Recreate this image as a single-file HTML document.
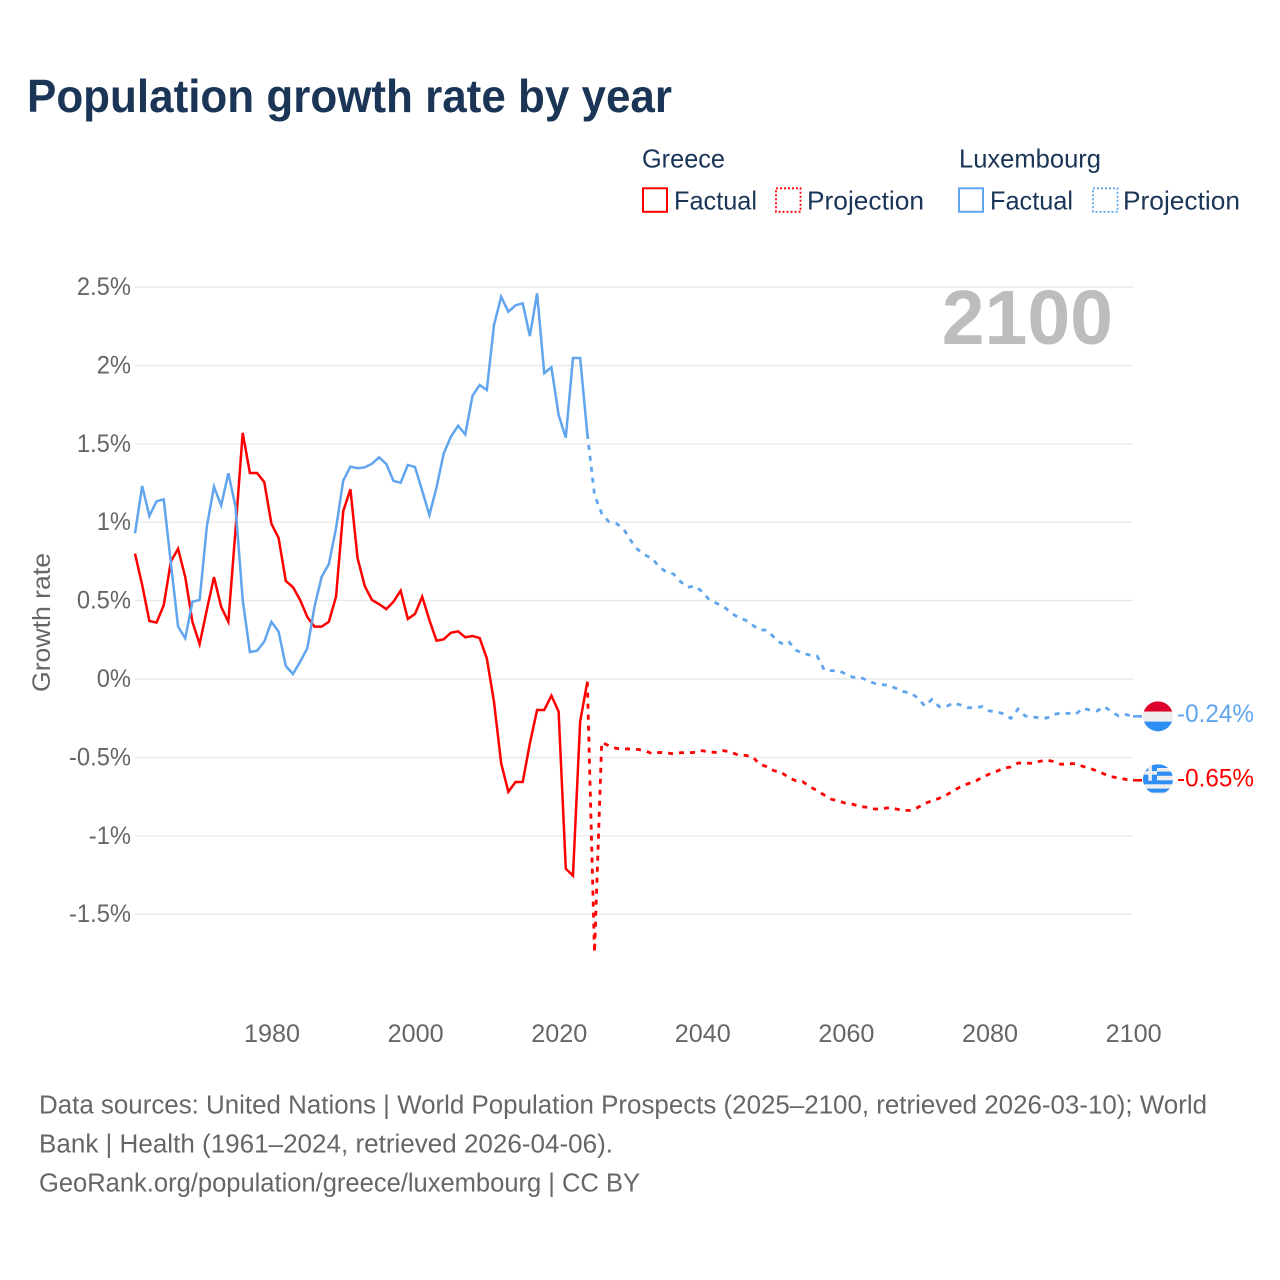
<!DOCTYPE html>
<html lang="en">
<head>
<meta charset="utf-8">
<title>Population growth rate by year</title>
<style>
  html, body { margin: 0; padding: 0; background: #fff; }
  svg { display: block; font-family: "Liberation Sans", sans-serif; }
  .legend-text { font-size: 26px; fill: #1a3556; }
  .foot { font-size: 25.5px; fill: #666; }
</style>
</head>
<body>
<svg id="chart" xmlns="http://www.w3.org/2000/svg" width="1280" height="1280" viewBox="0 0 1280 1280">
  <rect x="0" y="0" width="1280" height="1280" fill="#fff"/>
  <text x="27" y="112" font-size="46" font-weight="bold" fill="#1a3556" textLength="645" lengthAdjust="spacingAndGlyphs">Population growth rate by year</text>

  <g>
    <text class="legend-text" x="642" y="167.5" textLength="83" lengthAdjust="spacingAndGlyphs">Greece</text>
    <rect x="643" y="188.3" width="24" height="23.5" fill="none" stroke="#ff0000" stroke-width="2"/>
    <text class="legend-text" x="674" y="209.5" textLength="83" lengthAdjust="spacingAndGlyphs">Factual</text>
    <rect x="776" y="188.3" width="24.5" height="23.5" fill="none" stroke="#ff0000" stroke-width="1.8" stroke-dasharray="2 2"/>
    <text class="legend-text" x="807" y="209.5" textLength="117" lengthAdjust="spacingAndGlyphs">Projection</text>
    <text class="legend-text" x="959" y="167.5" textLength="142" lengthAdjust="spacingAndGlyphs">Luxembourg</text>
    <rect x="959" y="188.3" width="24" height="23.5" fill="none" stroke="#60a5ee" stroke-width="2"/>
    <text class="legend-text" x="990" y="209.5" textLength="83" lengthAdjust="spacingAndGlyphs">Factual</text>
    <rect x="1093" y="188.3" width="24.5" height="23.5" fill="none" stroke="#60a5ee" stroke-width="1.8" stroke-dasharray="2 2"/>
    <text class="legend-text" x="1123" y="209.5" textLength="117" lengthAdjust="spacingAndGlyphs">Projection</text>
  </g>

  <g id="grid"></g>
  <g id="yticks"></g>
  <g id="xticks"></g>

  <text x="1113" y="344" text-anchor="end" font-size="77" font-weight="bold" fill="#bdbdbd">2100</text>
  <text transform="translate(50,692) rotate(-90)" font-size="25" fill="#666" textLength="139" lengthAdjust="spacingAndGlyphs">Growth rate</text>

  <g id="series"></g>

  <defs>
    <clipPath id="flag-clip-lu"><circle cx="0" cy="0" r="15"/></clipPath>
    <clipPath id="flag-clip-gr"><circle cx="0" cy="0" r="15"/></clipPath>
  </defs>

  <g id="flag-lu" clip-path="url(#flag-clip-lu)">
    <rect x="-15" y="-15" width="30" height="10.3" fill="#dc002a"/>
    <rect x="-15" y="-4.7" width="30" height="10" fill="#eeeeee"/>
    <rect x="-15" y="5.3" width="30" height="10" fill="#2f8ef4"/>
  </g>
  <g id="flag-gr" clip-path="url(#flag-clip-gr)">
    <rect x="-15" y="-15" width="30" height="30" fill="#eeeeee"/>
    <rect x="-15" y="-15" width="30" height="3.7" fill="#2f8ef4"/>
    <rect x="-15" y="-7.7" width="30" height="4.2" fill="#2f8ef4"/>
    <rect x="-15" y="1" width="30" height="4" fill="#2f8ef4"/>
    <rect x="-15" y="9.3" width="30" height="4" fill="#2f8ef4"/>
    <rect x="-15" y="-15" width="14" height="16.5" fill="#2f8ef4"/>
    <rect x="-9.7" y="-15" width="3.6" height="16.5" fill="#eeeeee"/>
    <rect x="-15" y="-8.2" width="14" height="3.6" fill="#eeeeee"/>
  </g>
  <text id="label-lu" x="1177" font-size="25" fill="#60a5ee" textLength="77" lengthAdjust="spacingAndGlyphs"></text>
  <text id="label-gr" x="1177" font-size="25" fill="#ff0000" textLength="77" lengthAdjust="spacingAndGlyphs"></text>

  <g>
    <text class="foot" x="39" y="1113.5" textLength="1168" lengthAdjust="spacingAndGlyphs">Data sources: United Nations | World Population Prospects (2025–2100, retrieved 2026-03-10); World</text>
    <text class="foot" x="39" y="1152.5" textLength="574" lengthAdjust="spacingAndGlyphs">Bank | Health (1961–2024, retrieved 2026-04-06).</text>
    <text class="foot" x="39" y="1191.5" textLength="601" lengthAdjust="spacingAndGlyphs">GeoRank.org/population/greece/luxembourg | CC BY</text>
  </g>
</svg>

<script>
const factualStartYear = 1961;
const projectionStartYear = 2024;

const yTickValues = [2.5, 2, 1.5, 1, 0.5, 0, -0.5, -1, -1.5];
const yTickLabels = ["2.5%", "2%", "1.5%", "1%", "0.5%", "0%", "-0.5%", "-1%", "-1.5%"];
const xTickValues = [1980, 2000, 2020, 2040, 2060, 2080, 2100];
const xTickLabels = ["1980", "2000", "2020", "2040", "2060", "2080", "2100"];

const greeceFactual = [
  0.80, 0.60, 0.37, 0.36, 0.47, 0.75, 0.83, 0.65, 0.365, 0.223,
  0.44, 0.65, 0.46, 0.365, 0.95, 1.57, 1.314, 1.314, 1.256, 0.99,
  0.90, 0.625, 0.586, 0.504, 0.395, 0.334, 0.334, 0.365, 0.525, 1.07,
  1.21, 0.77, 0.593, 0.504, 0.477, 0.446, 0.493, 0.563, 0.383, 0.415,
  0.525, 0.376, 0.244, 0.253, 0.295, 0.304, 0.266, 0.274, 0.261, 0.132,
  -0.145, -0.538, -0.719, -0.657, -0.657, -0.41, -0.198, -0.198, -0.106, -0.208,
  -1.21, -1.254, -0.272, -0.017
];
const greeceProjection = [
  -0.017, -1.745, -0.404, -0.425, -0.442, -0.446, -0.446, -0.449, -0.457, -0.476,
  -0.468, -0.47, -0.478, -0.47, -0.47, -0.468, -0.457, -0.466, -0.468, -0.457,
  -0.466, -0.485, -0.487, -0.495, -0.544, -0.559, -0.585, -0.595, -0.627, -0.648,
  -0.655, -0.687, -0.712, -0.74, -0.767, -0.778, -0.793, -0.799, -0.814, -0.818,
  -0.829, -0.829, -0.82, -0.829, -0.838, -0.838, -0.82, -0.793, -0.778, -0.761,
  -0.74, -0.712, -0.687, -0.668, -0.653, -0.627, -0.606, -0.589, -0.568, -0.561,
  -0.536, -0.536, -0.538, -0.525, -0.517, -0.527, -0.544, -0.54, -0.54, -0.557,
  -0.57, -0.587, -0.606, -0.623, -0.631, -0.64, -0.646
];
const luxembourgFactual = [
  0.929, 1.231, 1.04, 1.133, 1.146, 0.738, 0.334, 0.26, 0.493, 0.504,
  0.971, 1.226, 1.107, 1.312, 1.099, 0.504, 0.172, 0.18, 0.238, 0.365,
  0.302, 0.083, 0.032, 0.11, 0.196, 0.461, 0.652, 0.733, 0.961, 1.265,
  1.354, 1.344, 1.35, 1.373, 1.414, 1.371, 1.263, 1.252, 1.365, 1.352,
  1.201, 1.046, 1.222, 1.439, 1.545, 1.615, 1.56, 1.805, 1.875, 1.843,
  2.258, 2.438, 2.342, 2.383, 2.396, 2.187, 2.46, 1.95, 1.988, 1.684,
  1.539, 2.047, 2.047, 1.5625
];
const luxembourgProjection = [
  1.5625, 1.173, 1.056, 1.003, 0.993, 0.961, 0.886, 0.827, 0.791, 0.77,
  0.716, 0.682, 0.67, 0.62, 0.585, 0.593, 0.557, 0.504, 0.483, 0.461,
  0.423, 0.393, 0.376, 0.344, 0.3125, 0.3125, 0.266, 0.227, 0.242, 0.185,
  0.164, 0.153, 0.147, 0.057, 0.053, 0.053, 0.032, 0.011, 0.012, -0.01,
  -0.028, -0.036, -0.04, -0.06, -0.08, -0.09, -0.119, -0.172, -0.13, -0.176,
  -0.176, -0.153, -0.166, -0.183, -0.183, -0.176, -0.204, -0.208, -0.223, -0.251,
  -0.191, -0.236, -0.242, -0.247, -0.249, -0.225, -0.217, -0.219, -0.225, -0.187,
  -0.198, -0.204, -0.176, -0.208, -0.236, -0.227, -0.238
];

const SVG_NS = "http://www.w3.org/2000/svg";
const plotLeft = 135;
const plotRight = 1133;
function xScale(year) { return plotLeft + (year - 1961) * (plotRight - plotLeft) / 139; }
function yScale(value) { return 679 - value * 156.8; }
function pathFrom(values, startYear) {
  return values.map(function (v, i) {
    return (i ? "L" : "M") + xScale(startYear + i).toFixed(2) + " " + yScale(v).toFixed(2);
  }).join("");
}
function lastOf(values) { return values[values.length - 1]; }
function formatPct(v) { return v.toFixed(2) + "%"; }

const gridGroup = document.getElementById("grid");
const yTickGroup = document.getElementById("yticks");
const xTickGroup = document.getElementById("xticks");
const seriesGroup = document.getElementById("series");

yTickValues.forEach(function (v, i) {
  const line = document.createElementNS(SVG_NS, "line");
  
  
  line.setAttribute("x1", plotLeft);
  line.setAttribute("x2", plotRight);
  line.setAttribute("y1", yScale(v));
  line.setAttribute("y2", yScale(v));
  line.setAttribute("stroke", "#e9e9e9");
  line.setAttribute("stroke-width", "1.4");
  gridGroup.appendChild(line);

  const t = document.createElementNS(SVG_NS, "text");
  
  
  t.setAttribute("x", 131);
  t.setAttribute("y", yScale(v) + 8);
  t.setAttribute("text-anchor", "end");
  t.setAttribute("font-size", "25");
  t.setAttribute("fill", "#666");
  t.textContent = yTickLabels[i];
  yTickGroup.appendChild(t);
  t.setAttribute("lengthAdjust", "spacingAndGlyphs");
  t.setAttribute("textLength", (t.getComputedTextLength() * 0.95).toFixed(1));
});

xTickValues.forEach(function (year, i) {
  const t = document.createElementNS(SVG_NS, "text");
  
  
  t.setAttribute("x", xScale(year) + 0.6);
  t.setAttribute("y", 1042);
  t.setAttribute("text-anchor", "middle");
  t.setAttribute("font-size", "25.2");
  t.setAttribute("fill", "#666");
  t.textContent = xTickLabels[i];
  xTickGroup.appendChild(t);
});

function addLine(d, color, dashed) {
  const p = document.createElementNS(SVG_NS, "path");
  p.setAttribute("d", d);
  p.setAttribute("fill", "none");
  p.setAttribute("stroke", color);
  p.setAttribute("stroke-width", dashed ? "2.8" : "2.5");
  if (dashed) { p.setAttribute("stroke-dasharray", "5 6"); }
  seriesGroup.appendChild(p);
  return p;
}

const greeceProjectionLine = addLine(pathFrom(greeceProjection, projectionStartYear), "#ff0000", true);


const greeceFactualLine = addLine(pathFrom(greeceFactual, factualStartYear), "#ff0000", false);


const luxProjectionLine = addLine(pathFrom(luxembourgProjection, projectionStartYear), "#60a5ee", true);


const luxFactualLine = addLine(pathFrom(luxembourgFactual, factualStartYear), "#60a5ee", false);



const greeceLeader = addLine("M" + plotRight + " " + yScale(lastOf(greeceProjection)) + "L" + (plotRight + 9) + " " + yScale(lastOf(greeceProjection)), "#ff0000", false);


const luxLeader = addLine("M" + plotRight + " " + yScale(lastOf(luxembourgProjection)) + "L" + (plotRight + 9) + " " + yScale(lastOf(luxembourgProjection)), "#60a5ee", false);



const luEnd = yScale(lastOf(luxembourgProjection));
const grEnd = yScale(lastOf(greeceProjection));
document.getElementById("flag-lu").setAttribute("transform", "translate(1158," + luEnd + ")");
document.getElementById("flag-gr").setAttribute("transform", "translate(1158," + (grEnd - 1) + ")");
const labelLu = document.getElementById("label-lu");
labelLu.setAttribute("y", luEnd + 5.5);
labelLu.textContent = formatPct(lastOf(luxembourgProjection));
const labelGr = document.getElementById("label-gr");
labelGr.setAttribute("y", grEnd + 6);
labelGr.textContent = formatPct(lastOf(greeceProjection));
</script>
</body>
</html>
